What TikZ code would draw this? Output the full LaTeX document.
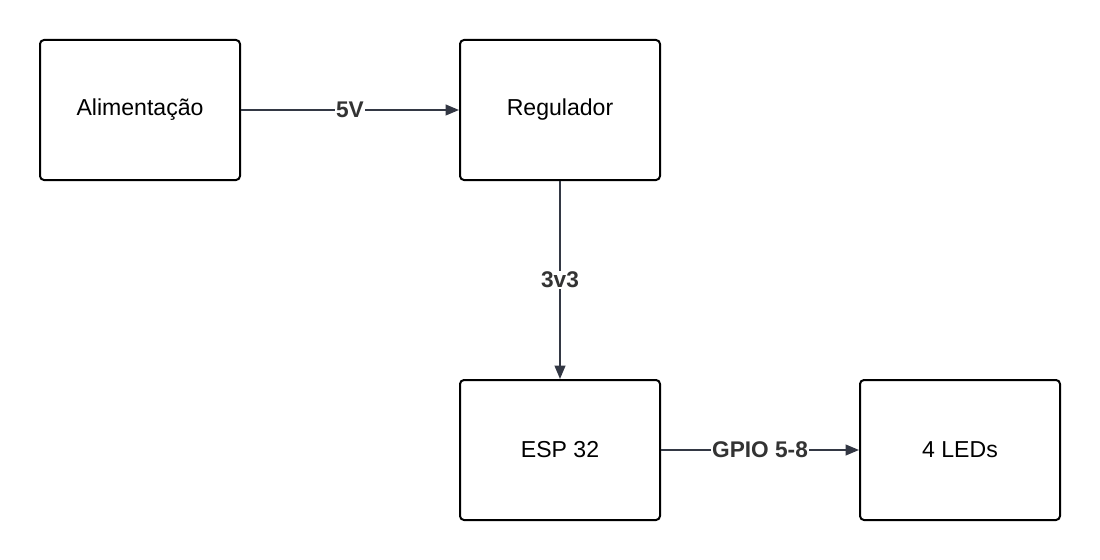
\documentclass[tikz,border=0pt]{standalone}
\usepackage{fontspec}
\setmainfont{Liberation Sans}
\usetikzlibrary{arrows.meta}
\definecolor{edge}{HTML}{333844}
\definecolor{lbl}{HTML}{333333}
\begin{document}
\begin{tikzpicture}[x=0.75pt,y=-0.75pt,
  block/.style={draw=black,line width=1.5pt,rounded corners=3pt,minimum width=150pt,minimum height=105pt,inner sep=0pt,font=\fontsize{17.3pt}{20pt}\selectfont,text=black},
  conn/.style={draw=edge,line width=1.4pt,-{Triangle[length=10pt,width=8pt]}},
  elabel/.style={fill=white,inner sep=1pt,font=\bfseries\fontsize{17pt}{20pt}\selectfont,text=lbl}]
\useasboundingbox[fill=white] (0,0) rectangle (1100,560);
\node[block] (ali) at (140,110) {Alimentação};
\node[block] (reg) at (560,110) {Regulador};
\node[block] (esp) at (560,450) {ESP 32};
\node[block] (led) at (960,450) {4 LEDs};
\draw[conn] (ali) -- node[elabel] {5V} (reg);
\draw[conn] (reg) -- node[elabel] {3v3} (esp);
\draw[conn] (esp) -- node[elabel] {GPIO 5-8} (led);
\end{tikzpicture}
\end{document}
